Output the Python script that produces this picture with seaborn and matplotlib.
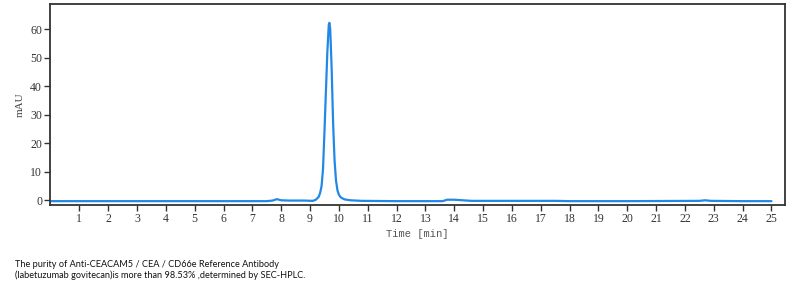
import matplotlib
matplotlib.use("Agg")
import matplotlib.pyplot as plt
import seaborn as sns
import pandas as pd

# Chromatogram trace (time in min, signal in mAU)
time_min = [0.0, 2.0, 5.0, 7.5, 7.7, 7.85, 8.0, 8.3, 8.8, 9.1, 9.2, 9.3, 9.35,
            9.4, 9.45, 9.5, 9.55, 9.6, 9.65, 9.67, 9.7, 9.75, 9.8, 9.85, 9.9,
            9.95, 10.0, 10.05, 10.1, 10.2, 10.4, 10.8, 12.0, 13.6, 13.75, 14.0,
            14.3, 14.6, 16.0, 17.5, 18.0, 20.0, 22.5, 22.7, 22.9, 24.0, 25.0]
signal_mau = [-0.3, -0.3, -0.3, -0.3, -0.1, 0.4, 0.0, -0.1, -0.1, -0.2, 0.2,
              1.2, 2.6, 5.0, 11.0, 24.0, 38.0, 52.0, 61.5, 62.2, 60.0, 46.0,
              27.0, 14.0, 7.0, 3.5, 2.0, 1.2, 0.8, 0.3, 0.0, -0.2, -0.3, -0.3,
              0.2, 0.2, 0.0, -0.2, -0.2, -0.2, -0.3, -0.3, -0.2, 0.0, -0.2,
              -0.3, -0.3]
x_ticks = list(range(1, 26))
y_ticks = [0, 10, 20, 30, 40, 50, 60]
x_label = "Time [min]"
y_label = "mAU"
caption = ("The purity of Anti-CEACAM5 / CEA / CD66e Reference Antibody\n"
           "(labetuzumab govitecan)is more than 98.53% ,determined by SEC-HPLC.")

df = pd.DataFrame({"t": time_min, "s": signal_mau})

sns.set_theme(style="white")
fig = plt.figure(figsize=(8.12, 2.9), dpi=100)
ax = fig.add_axes([50.5 / 812, 1 - 205 / 290, (785 - 50.5) / 812, (205 - 4) / 290])

sns.lineplot(data=df, x="t", y="s", ax=ax, color="#2288E6", linewidth=1.6)

ax.set_xlim(0, 25.47)
ax.set_ylim(-1.65, 68.8)
ax.set_xticks(x_ticks)
ax.set_yticks(y_ticks)
serif = ["Liberation Serif", "DejaVu Serif"]
ax.set_xticklabels([str(v) for v in x_ticks], family=serif, fontsize=8.5, color="#333333")
ax.set_yticklabels([str(v) for v in y_ticks], family=serif, fontsize=8.5, color="#333333")
ax.tick_params(axis="both", direction="out", length=4, width=1, color="#333333", pad=2,
               bottom=True, left=True)
ax.set_xlabel(x_label, family=["Liberation Mono", "DejaVu Sans Mono"], fontsize=7.6,
              color="#555555", labelpad=3)
ax.set_ylabel(y_label, family=serif, fontsize=8, color="#444444", labelpad=4)
for sp in ax.spines.values():
    sp.set_color("#333333")
    sp.set_linewidth(1.3)
    sp.set_visible(True)

fig.text(15 / 812, 1 - 260 / 290, caption, family=["Lato", "DejaVu Sans"], fontsize=6.6,
         color="#111111", va="top", ha="left", linespacing=1.25)

fig.savefig("out.png", dpi=100, facecolor="white")
